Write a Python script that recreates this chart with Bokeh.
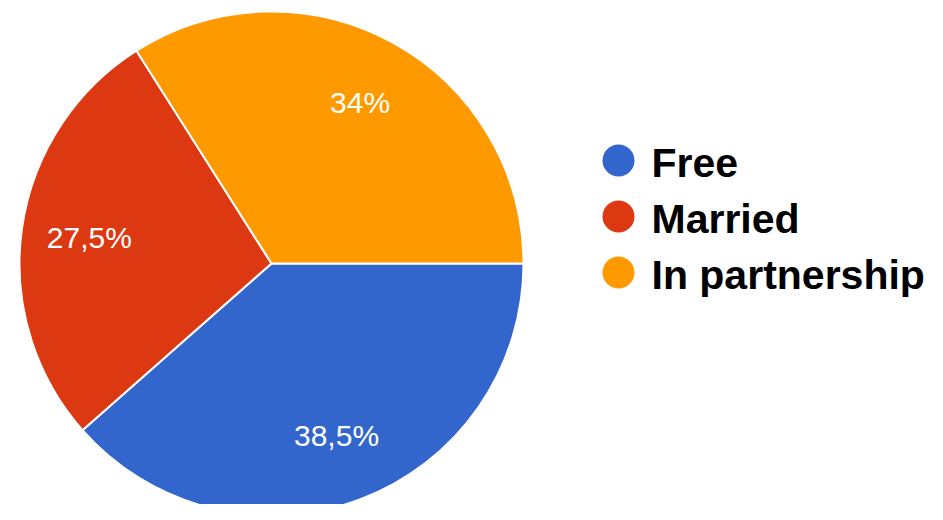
import math
from bokeh.plotting import figure
from bokeh.models import Range1d, ColumnDataSource
from bokeh.core.properties import value
from bokeh.embed import file_html
from bokeh.resources import INLINE

categories = ["Free", "Married", "In partnership"]
shares = [38.5, 27.5, 34.0]
slice_labels = ["38,5%", "27,5%", "34%"]
colors = ["#3366CC", "#DC3912", "#FF9900"]

W, H = 927, 504
scale = 252.0          # pixels per unit radius
cx, cy = 271.0, 263.0  # pie centre in the picture (pixels)
off = 0.0

p = figure(width=W, height=H, output_backend="svg", toolbar_location=None,
           x_axis_location=None, y_axis_location=None, min_border=0,
           x_range=Range1d((off - cx) / scale, (off + W - cx) / scale),
           y_range=Range1d((cy - off - H) / scale, (cy - off) / scale))
p.grid.visible = False
p.outline_line_color = None
p.background_fill_color = "white"

total = sum(shares)
starts, ends, lx, ly = [], [], [], []
cum = 0.0
for s in shares:
    a0 = -cum / total * 2 * math.pi
    cum += s
    a1 = -cum / total * 2 * math.pi
    starts.append(a0)
    ends.append(a1)
    mid = (a0 + a1) / 2
    lx.append(0.73 * math.cos(mid))
    ly.append(0.73 * math.sin(mid))

src = ColumnDataSource(dict(start=starts, end=ends, color=colors,
                            lx=lx, ly=ly, lab=slice_labels))
p.wedge(x=0, y=0, radius=1.0, start_angle="start", end_angle="end",
        direction="clock", fill_color="color", line_color="white",
        line_width=2, source=src)
p.text(x="lx", y="ly", text="lab", source=src, text_color="white",
       text_font=value("Liberation Sans"), text_font_size="30px",
       text_align="center", text_baseline="middle")

# legend drawn as glyphs
leg_x = (618 - cx) / scale
txt_x = (651 - cx) / scale
leg_y = [(cy - (160 + 56 * i)) / scale for i in range(len(categories))]
txt_y = [(cy - (160 + 56 * i + 2)) / scale for i in range(len(categories))]
lsrc = ColumnDataSource(dict(x=[leg_x] * 3, y=leg_y, tx=[txt_x] * 3, ty=txt_y,
                             name=categories, color=colors))
p.scatter(x="x", y="y", size=32, marker="circle", fill_color="color",
          line_color=None, source=lsrc)
p.text(x="tx", y="ty", text="name", source=lsrc, text_color="black",
       text_font=value("Liberation Sans"), text_font_size="41px",
       text_font_style="bold", text_align="left", text_baseline="middle")

open("out.html", "w").write(file_html(p, INLINE))
